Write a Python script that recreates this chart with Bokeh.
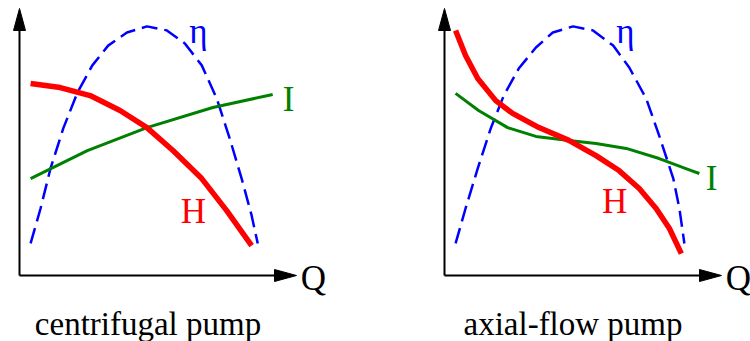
from bokeh.plotting import figure
from bokeh.models import Range1d
from bokeh.core.properties import value
from bokeh.embed import file_html
from bokeh.resources import INLINE

# Characteristic curves, flow Q and each quantity in % of the axis length.
# Centrifugal pump
cf_q_head = [4.0, 14.7, 25.5, 36.3, 46.0, 55.4, 65.8, 74.8, 83.8]
cf_head = [71.9, 70.4, 67.4, 61.8, 55.4, 46.8, 36.3, 24.3, 11.2]
cf_q_power = [4.0, 24.5, 46.0, 69.8, 91.4]
cf_power = [36.3, 46.8, 55.4, 62.9, 67.8]
cf_q_eff = [4.0, 7.6, 11.2, 15.8, 20.9, 26.3, 32.0, 38.8, 46.0, 53.2, 59.7,
            65.8, 71.2, 75.9, 80.2, 83.8, 86.0]
cf_eff = [12.0, 25.1, 40.1, 55.1, 68.5, 78.7, 86.1, 91.0, 93.3, 91.8, 86.9,
          78.7, 66.3, 51.3, 36.3, 22.5, 12.0]

# Axial-flow pump
ax_q_head = [4.0, 7.6, 12.0, 18.5, 24.6, 34.1, 44.9, 54.7, 63.0, 70.3, 76.4,
             81.2, 85.5]
ax_head = [91.8, 82.4, 73.8, 65.5, 60.7, 55.4, 50.6, 44.9, 39.3, 32.6, 25.1,
           17.6, 8.2]
ax_q_power = [4.0, 12.3, 22.8, 33.0, 44.9, 54.7, 65.6, 77.5, 89.1, 92.0]
ax_power = [68.2, 61.8, 55.4, 52.1, 50.6, 49.4, 47.6, 43.8, 39.3, 38.2]
ax_q_eff = [4.0, 7.6, 12.0, 16.7, 21.4, 26.8, 33.0, 39.1, 46.4, 53.6, 60.9,
            66.7, 72.8, 77.5, 82.6, 84.8, 86.6]
ax_eff = [12.0, 25.1, 40.1, 55.1, 67.4, 77.5, 85.4, 91.0, 93.3, 91.8, 86.1,
          77.9, 66.3, 52.4, 36.3, 25.1, 12.0]

titles = ["centrifugal pump", "axial-flow pump"]

W, H = 750, 341
SX, SY = 2.77, 2.67          # pixels per % unit
ORIGIN_Y = 275
LEFT_X0, RIGHT_X0 = 19, 444  # pixel position of each panel's origin

FONT = value("Liberation Serif")
RED, GREEN, BLUE = "#ff0000", "#008000", "#0000ff"

p = figure(width=W, height=H, output_backend="svg", toolbar_location=None,
           x_axis_type=None, y_axis_type=None,
           x_range=Range1d(-LEFT_X0 / SX, (W - LEFT_X0) / SX),
           y_range=Range1d((ORIGIN_Y - H) / SY, ORIGIN_Y / SY),
           min_border=0)
p.extra_x_ranges = {"axial": Range1d(-RIGHT_X0 / SX, (W - RIGHT_X0) / SX)}
p.outline_line_color = None
p.xgrid.visible = False
p.ygrid.visible = False
p.background_fill_color = "white"
p.border_fill_color = "white"

AX_LEN = 100.0
HEAD_LEN_PX, HEAD_HALF_PX = 22, 6


def label(kw, x, y, txt, color, size, align="center"):
    p.text(x=[x], y=[y], text=[txt], text_color=color, text_font=FONT,
           text_font_size=size, text_align=align, text_baseline="alphabetic",
           **kw)


def draw_panel(rng, q_head, head, q_pow, power, q_eff, eff, title,
               h_pos, i_pos, eta_pos):
    kw = {} if rng is None else {"x_range_name": rng}
    # axes with arrowheads
    p.line([0, 0], [0, AX_LEN - 4], line_color="black", line_width=2, **kw)
    p.line([0, AX_LEN - 4], [0, 0], line_color="black", line_width=2, **kw)
    hl_y, hw_x = HEAD_LEN_PX / SY, HEAD_HALF_PX / SX
    hl_x, hw_y = HEAD_LEN_PX / SX, HEAD_HALF_PX / SY
    p.patch([-hw_x, 0, hw_x], [AX_LEN - hl_y, AX_LEN, AX_LEN - hl_y],
            fill_color="black", line_color="black", line_width=1, **kw)
    p.patch([AX_LEN - hl_x, AX_LEN, AX_LEN - hl_x], [hw_y, 0, -hw_y],
            fill_color="black", line_color="black", line_width=1, **kw)

    # curves
    p.line(q_eff, eff, line_color=BLUE, line_width=2.5, line_dash="16 7", **kw)
    p.line(q_pow, power, line_color=GREEN, line_width=3, line_join="round", **kw)
    p.line(q_head, head, line_color=RED, line_width=5.5, line_join="round", **kw)

    # curve labels
    label(kw, h_pos[0], h_pos[1], "H", RED, "35px")
    label(kw, i_pos[0], i_pos[1], "I", GREEN, "35px")
    label(kw, eta_pos[0], eta_pos[1], "η", BLUE, "35px")
    label(kw, AX_LEN + 1.5, -1.1, "Q", "black", "35px", align="left")
    label(kw, 46.4, -18.0, title, "black", "33px")


draw_panel(None, cf_q_head, cf_head, cf_q_power, cf_power, cf_q_eff, cf_eff,
           titles[0], (62.8, 24.0), (97.1, 65.9), (64.6, 91.4))
draw_panel("axial", ax_q_head, ax_head, ax_q_power, ax_power, ax_q_eff, ax_eff,
           titles[1], (61.4, 27.7), (96.4, 36.4), (65.3, 91.4))

open("out.html", "w").write(file_html(p, INLINE))
